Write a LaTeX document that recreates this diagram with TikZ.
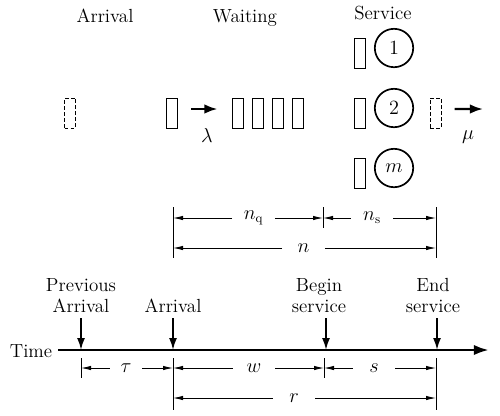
\documentclass[tikz,border=0pt]{standalone}
\usetikzlibrary{arrows.meta,positioning,calc}
\begin{document}
\begin{tikzpicture}[x=0.25mm,y=-0.25mm,font=\fontsize{13.5}{15}\selectfont,
  cust/.style={draw,line width=0.7pt,minimum width=2.75mm,minimum height=7.5mm,inner sep=0pt},
  ghost/.style={cust,dash pattern=on 0.9mm off 0.6mm},
  server/.style={draw,circle,line width=1.2pt,minimum size=9.6mm,inner sep=0pt},
  flow/.style={line width=1.6pt,-{Latex[length=3.3mm,width=2.4mm]}},
  drop/.style={line width=1.3pt,-{Latex[length=3mm,width=2mm]},shorten <=1.25mm},
  dim/.style={line width=0.6pt,-{Latex[length=2.5mm,width=1.1mm]}},
  tick/.style={line width=0.6pt},
  dimlabel/.style={minimum width=10.5mm,inner sep=0pt},
  event/.style={align=center,anchor=south,inner sep=0pt}]
  \useasboundingbox (0,0) rectangle (500,415);

  \node[anchor=base] (harr) at (105,22) {Arrival};
  \node[anchor=base] (hwait) at (245,22) {Waiting};
  \node[anchor=base] (hserv) at (383,19) {Service};

  \node[ghost] (came) at (70,113) {};
  \node[cust] (next) at (171.5,113) {};
  \foreach \x [count=\i] in {237.5,258,278,298}
    \node[cust] (q\i) at (\x,113) {};
  \foreach \y/\n/\t in {48/1/1,108/2/2,168/3/m} {
    \node[cust] (inserv\n) at (359.5,\y+5) {};
    \node[server] (srv\n) at (394,\y) {$\t$};
  }
  \node[ghost] (gone) at (435.5,113) {};
  \coordinate (exit) at (483,109);
  \draw[flow,shorten <=3.5mm,shorten >=3.5mm] ([yshift=1mm]next.east) -- ([yshift=1mm]q1.west);
  \node (lam) at (207,135) {$\lambda$};
  \draw[flow,shorten <=3.25mm] ([yshift=1mm]gone.east) -- (exit);
  \node (mu) at (468,137) {$\mu$};

  \coordinate (qa) at (173,207); \coordinate (qb) at (173,258);
  \coordinate (sa) at (323,207); \coordinate (sb) at (323,228);
  \coordinate (ea) at (436,207); \coordinate (eb) at (436,258);
  \draw[tick] (qa) -- (qb) (sa) -- (sb) (ea) -- (eb);
  \node[dimlabel] (nq) at (253.5,218) {$n_{\mathrm{q}}$};
  \node[dimlabel] (ns) at (372,218) {$n_{\mathrm{s}}$};
  \node[dimlabel] (nall) at (303.5,248) {$n$};
  \foreach \l/\a/\b in {nq/qa/sa,ns/sa/ea,nall/qa/ea} {
    \draw[dim] (\l) -- (\a |- \l);
    \draw[dim] (\l) -- (\b |- \l);
  }

  \node (time) at (31,351) {Time};
  \coordinate (t0) at (58,350); \coordinate (tend) at (489,350);
  \draw[line width=2pt,-{Latex[length=3.8mm,width=2.6mm]}] (t0) -- (tend);
  \coordinate (tp) at (81,350); \coordinate (ta) at (173,350);
  \coordinate (tb) at (326,350); \coordinate (te) at (437,350);
  \node[event] (prev) at (81,313) {Previous\\Arrival};
  \node[event] (arrv) at (173,313) {Arrival};
  \node[event] (begs) at (319,313) {Begin\\service};
  \node[event] (ends) at (433,313) {End\\service};
  \foreach \e/\t in {prev/tp,arrv/ta,begs/tb,ends/te}
    \draw[drop] (\e.south -| \t) -- (\t);

  \coordinate (pa) at (81,358); \coordinate (pb) at (81,378);
  \coordinate (aa) at (173,358); \coordinate (ab) at (173,410);
  \coordinate (ba) at (324,358); \coordinate (bb) at (324,378);
  \coordinate (ca) at (436,358); \coordinate (cb) at (436,410);
  \draw[tick] (pa) -- (pb) (aa) -- (ab) (ba) -- (bb) (ca) -- (cb);
  \node[dimlabel,minimum width=8mm] (tau) at (126,368) {$\tau$};
  \node[dimlabel] (wait) at (254,368) {$w$};
  \node[dimlabel] (serv) at (374,368) {$s$};
  \node[dimlabel] (resp) at (294,398) {$r$};
  \foreach \l/\a/\b in {tau/pa/aa,wait/aa/ba,serv/ba/ca,resp/aa/ca} {
    \draw[dim] (\l) -- (\a |- \l);
    \draw[dim] (\l) -- (\b |- \l);
  }
\end{tikzpicture}
\end{document}
